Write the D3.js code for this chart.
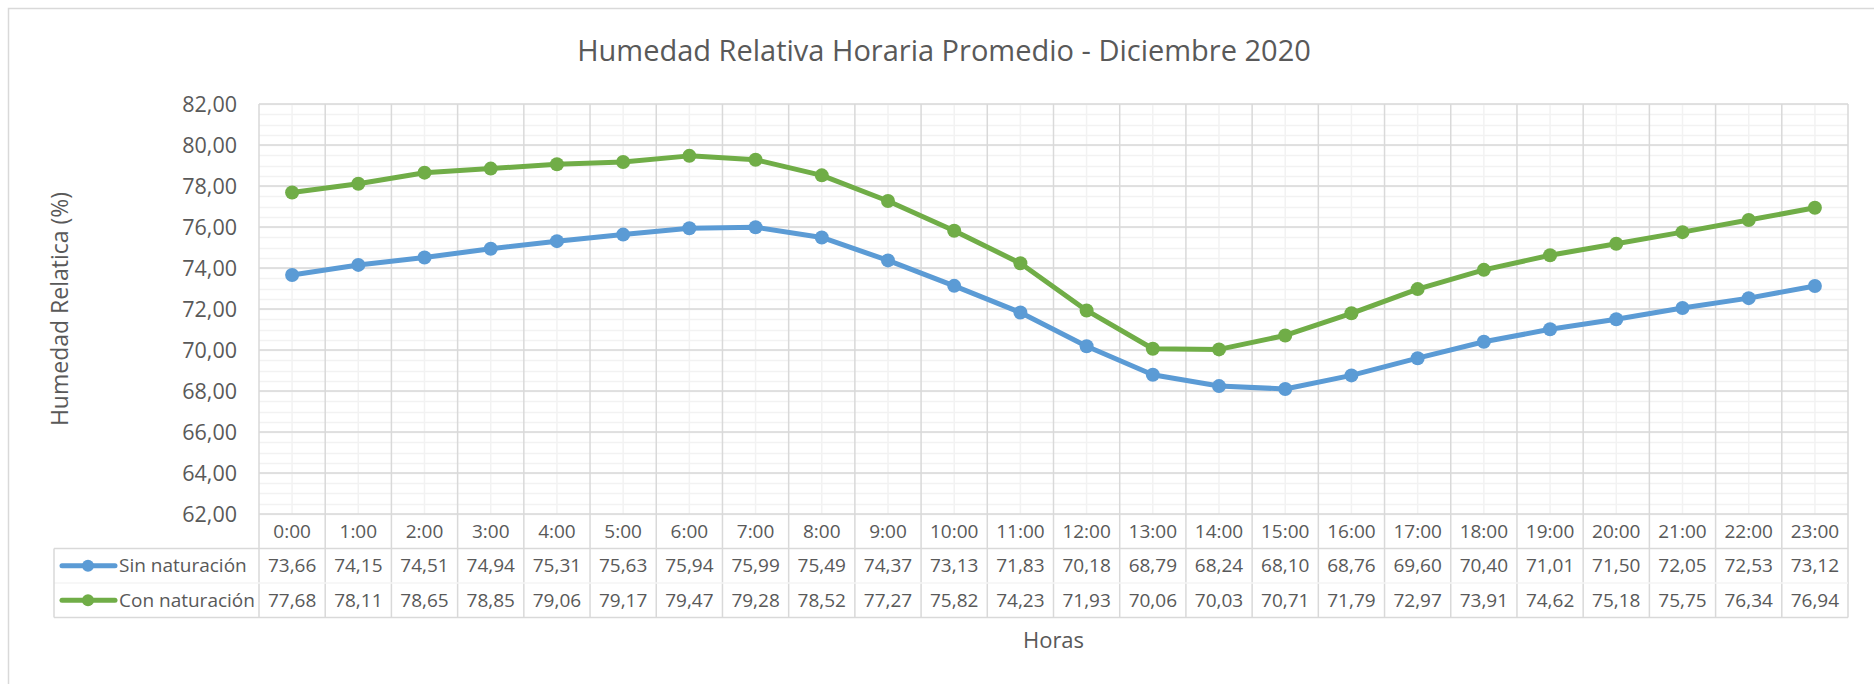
<!DOCTYPE html>
<html>
<head>
<meta charset="utf-8">
<script src="https://cdn.jsdelivr.net/npm/d3@7"></script>
<style>
  body { margin: 0; background: #fff; }
  text { font-family: "Open Sans", "Noto Sans", sans-serif; fill: #595959; }
</style>
</head>
<body>
<svg width="1874" height="684"></svg>
<script>
var horas = ["0:00","1:00","2:00","3:00","4:00","5:00","6:00","7:00","8:00","9:00","10:00","11:00",
             "12:00","13:00","14:00","15:00","16:00","17:00","18:00","19:00","20:00","21:00","22:00","23:00"];
var sinNaturacion = [73.66,74.15,74.51,74.94,75.31,75.63,75.94,75.99,75.49,74.37,73.13,71.83,
                     70.18,68.79,68.24,68.10,68.76,69.60,70.40,71.01,71.50,72.05,72.53,73.12];
var conNaturacion = [77.68,78.11,78.65,78.85,79.06,79.17,79.47,79.28,78.52,77.27,75.82,74.23,
                     71.93,70.06,70.03,70.71,71.79,72.97,73.91,74.62,75.18,75.75,76.34,76.94];
var yTicks = [62,64,66,68,70,72,74,76,78,80,82];

var series = [
  {name: "Sin naturación", values: sinNaturacion, color: "#5B9BD5"},
  {name: "Con naturación", values: conNaturacion, color: "#70AD47"}
];

var svg = d3.select("svg"),
    plot = {left: 259, right: 1848, top: 104, bottom: 514},
    rowH = 34.5,
    legendLeft = 54;

var fmt = function(v) { return d3.format(".2f")(v).replace(".", ","); };

// outer frame
svg.append("rect")
    .attr("x", 8.5).attr("y", 8.5)
    .attr("width", 1900).attr("height", 700)
    .attr("fill", "none").attr("stroke", "#D9D9D9").attr("stroke-width", 1.5);

var x = d3.scaleBand()
    .domain(horas)
    .range([plot.left, plot.right]);

var y = d3.scaleLinear()
    .domain([62, 82])
    .range([plot.bottom, plot.top]);

var grid = svg.append("g");

// minor horizontal gridlines
grid.selectAll("line.minorY")
    .data(d3.range(62, 82.01, 0.5))
    .enter().append("line")
    .attr("x1", plot.left).attr("x2", plot.right)
    .attr("y1", function(d) { return Math.round(y(d)) + 0.5; })
    .attr("y2", function(d) { return Math.round(y(d)) + 0.5; })
    .attr("stroke", "#F2F2F2").attr("stroke-width", 1.5);

// minor vertical gridlines (category centers)
grid.selectAll("line.minorX")
    .data(horas)
    .enter().append("line")
    .attr("x1", function(d) { return x(d) + x.bandwidth() / 2; })
    .attr("x2", function(d) { return x(d) + x.bandwidth() / 2; })
    .attr("y1", plot.top).attr("y2", plot.bottom)
    .attr("stroke", "#F2F2F2").attr("stroke-width", 1.5);

// major horizontal gridlines
grid.selectAll("line.majorY")
    .data(yTicks)
    .enter().append("line")
    .attr("x1", plot.left).attr("x2", plot.right)
    .attr("y1", function(d) { return y(d); })
    .attr("y2", function(d) { return y(d); })
    .attr("stroke", "#D9D9D9").attr("stroke-width", 1.5);

// major vertical gridlines, running down through the data table
var bounds = horas.map(function(d) { return x(d); }).concat([plot.right]);
grid.selectAll("line.majorX")
    .data(bounds)
    .enter().append("line")
    .attr("x1", function(d) { return d; }).attr("x2", function(d) { return d; })
    .attr("y1", plot.top).attr("y2", plot.bottom + rowH * 3)
    .attr("stroke", "#D9D9D9").attr("stroke-width", 1.5);

// table horizontal rules
grid.append("line")
    .attr("x1", legendLeft).attr("x2", plot.right)
    .attr("y1", plot.bottom + rowH).attr("y2", plot.bottom + rowH)
    .attr("stroke", "#D9D9D9").attr("stroke-width", 1.5);
grid.append("line")
    .attr("x1", legendLeft).attr("x2", plot.right)
    .attr("y1", plot.bottom + rowH * 2).attr("y2", plot.bottom + rowH * 2)
    .attr("stroke", "#F4F4F4").attr("stroke-width", 1.5);
grid.append("line")
    .attr("x1", legendLeft).attr("x2", plot.right)
    .attr("y1", plot.bottom + rowH * 3).attr("y2", plot.bottom + rowH * 3)
    .attr("stroke", "#D9D9D9").attr("stroke-width", 1.5);
grid.append("line")
    .attr("x1", legendLeft).attr("x2", legendLeft)
    .attr("y1", plot.bottom + rowH).attr("y2", plot.bottom + rowH * 3)
    .attr("stroke", "#D9D9D9").attr("stroke-width", 1.5);

// y axis labels
svg.append("g").selectAll("text")
    .data(yTicks)
    .enter().append("text")
    .attr("x", 237)
    .attr("y", function(d) { return y(d); })
    .attr("dy", "0.35em")
    .attr("text-anchor", "end")
    .style("font-size", "21.5px")
    .text(fmt);

// category row
svg.append("g").selectAll("text")
    .data(horas)
    .enter().append("text")
    .attr("x", function(d) { return x(d) + x.bandwidth() / 2; })
    .attr("y", plot.bottom + rowH / 2)
    .attr("dy", "0.35em")
    .attr("text-anchor", "middle")
    .style("font-size", "19px")
    .text(function(d) { return d; });

// lines and markers
var line = d3.line()
    .x(function(d, i) { return x(horas[i]) + x.bandwidth() / 2; })
    .y(function(d) { return y(d); });

series.forEach(function(s, si) {
    var g = svg.append("g");
    g.append("path")
        .datum(s.values)
        .attr("fill", "none")
        .attr("stroke", s.color)
        .attr("stroke-width", 5)
        .attr("stroke-linejoin", "round")
        .attr("d", line);
    g.selectAll("circle")
        .data(s.values)
        .enter().append("circle")
        .attr("cx", function(d, i) { return x(horas[i]) + x.bandwidth() / 2; })
        .attr("cy", function(d) { return y(d); })
        .attr("r", 7)
        .attr("fill", s.color);

    // data table row
    var cy = plot.bottom + rowH * (si + 1) + rowH / 2;
    svg.append("g").selectAll("text")
        .data(s.values)
        .enter().append("text")
        .attr("x", function(d, i) { return x(horas[i]) + x.bandwidth() / 2; })
        .attr("y", cy)
        .attr("dy", "0.35em")
        .attr("text-anchor", "middle")
        .style("font-size", "19px")
        .text(fmt);

    // legend key
    svg.append("line")
        .attr("x1", 62).attr("x2", 115)
        .attr("y1", cy).attr("y2", cy)
        .attr("stroke", s.color).attr("stroke-width", 5)
        .attr("stroke-linecap", "round");
    svg.append("circle")
        .attr("cx", 88).attr("cy", cy).attr("r", 6)
        .attr("fill", s.color);
    svg.append("text")
        .attr("x", 119).attr("y", cy)
        .attr("dy", "0.35em")
        .style("font-size", "19px")
        .text(s.name);
});

// titles
svg.append("text")
    .attr("x", 944).attr("y", 51)
    .attr("dy", "0.35em")
    .attr("text-anchor", "middle")
    .style("font-size", "29px")
    .text("Humedad Relativa Horaria Promedio - Diciembre 2020");

svg.append("text")
    .attr("transform", "translate(60," + ((plot.top + plot.bottom) / 2) + ") rotate(-90)")
    .attr("dy", "0.35em")
    .attr("text-anchor", "middle")
    .style("font-size", "23px")
    .text("Humedad Relatica (%)");

svg.append("text")
    .attr("x", (plot.left + plot.right) / 2).attr("y", 640)
    .attr("dy", "0.35em")
    .attr("text-anchor", "middle")
    .style("font-size", "22px")
    .text("Horas");
</script>
</body>
</html>
